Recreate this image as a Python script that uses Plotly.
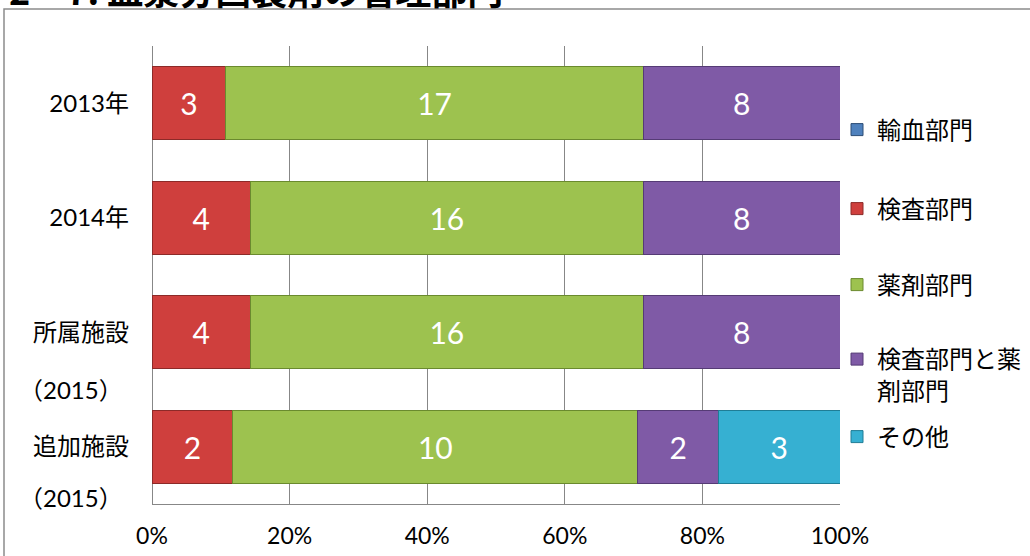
import plotly.graph_objects as go

# Facilities surveyed per year (top to bottom)
categories = ["2013年", "2014年", "所属施設（2015）", "追加施設（2015）"]
label_line1 = ["2013年", "2014年", "所属施設", "追加施設"]
label_line2 = ["", "", "（2015）", "（2015）"]

# Number of facilities by managing department
departments = ["輸血部門", "検査部門", "薬剤部門", "検査部門と薬<br>剤部門", "その他"]
counts_transfusion = [0, 0, 0, 0]
counts_lab = [3, 4, 4, 2]
counts_pharmacy = [17, 16, 16, 10]
counts_lab_pharmacy = [8, 8, 8, 2]
counts_other = [0, 0, 0, 3]

x_ticks = [0, 20, 40, 60, 80, 100]

series = [counts_transfusion, counts_lab, counts_pharmacy, counts_lab_pharmacy, counts_other]
colors = ["#4F81BD", "#CF3F3D", "#9DC24F", "#7F5AA6", "#36B0D2"]
edges = ["#2C4D75", "#8C2A28", "#6A8A2E", "#553B75", "#1F7D96"]

LATIN = "Lato, 'Noto Sans CJK JP', sans-serif"
CJK = "'Noto Sans CJK JP', sans-serif"

PLOT_LEFT, PLOT_RIGHT = 152, 840
PLOT_TOP, PLOT_BOTTOM = 46, 504


def paper_x(px):
    return (px - PLOT_LEFT) / (PLOT_RIGHT - PLOT_LEFT)


def paper_y(px):
    return (PLOT_BOTTOM - px) / (PLOT_BOTTOM - PLOT_TOP)


# each legend entry sits in its own legend box down the right side
legend_centres = [130, 209, 285, 375, 437]
# vertical offset of the "(2015)" second label lines below their bars
sub_label_shift = [0, 0, -57, -51]

fig = go.Figure()
for i, (name, vals) in enumerate(zip(departments, series)):
    fig.add_trace(go.Bar(
        y=categories,
        x=vals,
        name=name,
        orientation="h",
        legend="legend" if i == 0 else f"legend{i + 1}",
        marker=dict(color=colors[i], line=dict(color=edges[i], width=1)),
        text=[str(v) if v else "" for v in vals],
        textposition="inside",
        insidetextanchor="middle",
        textfont=dict(color="white", size=30, family=LATIN),
        hoverinfo="skip",
    ))

legend_layout = {}
for i, cy in enumerate(legend_centres):
    key = "legend" if i == 0 else f"legend{i + 1}"
    legend_layout[key] = dict(
        x=paper_x(837), xanchor="left",
        y=paper_y(cy), yanchor="middle",
        valign="top",
        font=dict(size=24, family=CJK),
        itemwidth=30,
        bgcolor="rgba(0,0,0,0)",
    )

fig.update_layout(
    width=1030,
    height=556,
    barmode="stack",
    barnorm="percent",
    bargap=0.36,
    margin=dict(l=PLOT_LEFT, r=1030 - PLOT_RIGHT, t=PLOT_TOP, b=556 - PLOT_BOTTOM,
                autoexpand=False),
    paper_bgcolor="white",
    plot_bgcolor="white",
    font=dict(family=LATIN, size=24, color="black"),
    showlegend=True,
    uniformtext=dict(minsize=10, mode="show"),
    **legend_layout,
)

fig.update_xaxes(
    range=[0, 100],
    tickvals=x_ticks,
    ticktext=[f"{t}%" for t in x_ticks],
    showgrid=True,
    gridcolor="#878787",
    gridwidth=1,
    zeroline=True,
    zerolinecolor="#878787",
    zerolinewidth=1,
    showline=True,
    linecolor="#878787",
    linewidth=1,
    mirror=False,
    ticks="",
    ticklabelstandoff=11,
    tickfont=dict(size=23, family=LATIN),
)

fig.update_yaxes(
    autorange="reversed",
    tickmode="array",
    tickvals=categories,
    ticktext=label_line1,
    showgrid=False,
    showline=False,
    zeroline=False,
    ticks="",
    ticklabelstandoff=22,
    tickfont=dict(size=24, family=LATIN),
)

# second line of the 2015 category labels
for cat, sub, dy in zip(categories, label_line2, sub_label_shift):
    if sub:
        fig.add_annotation(
            x=0, xref="paper", xanchor="right", xshift=-27,
            y=cat, yref="y", yanchor="middle",
            yshift=dy,
            text=sub, showarrow=False,
            font=dict(size=24, family=LATIN),
        )

# chart title (runs off the top edge of the page)
fig.add_annotation(
    x=paper_x(7), xref="paper", xanchor="left",
    y=paper_y(17), yref="paper", yanchor="bottom",
    text="<b>2－7. 血漿分画製剤の管理部門</b>",
    showarrow=False,
    font=dict(size=36, family=CJK, color="black"),
)

# chart frame
fig.add_shape(
    type="rect", xref="paper", yref="paper",
    x0=paper_x(4), x1=2.0, y0=-1.0, y1=paper_y(9),
    line=dict(color="#8C8C8C", width=1.5),
    fillcolor="rgba(0,0,0,0)",
    layer="below",
)

fig.write_html("out.html")
